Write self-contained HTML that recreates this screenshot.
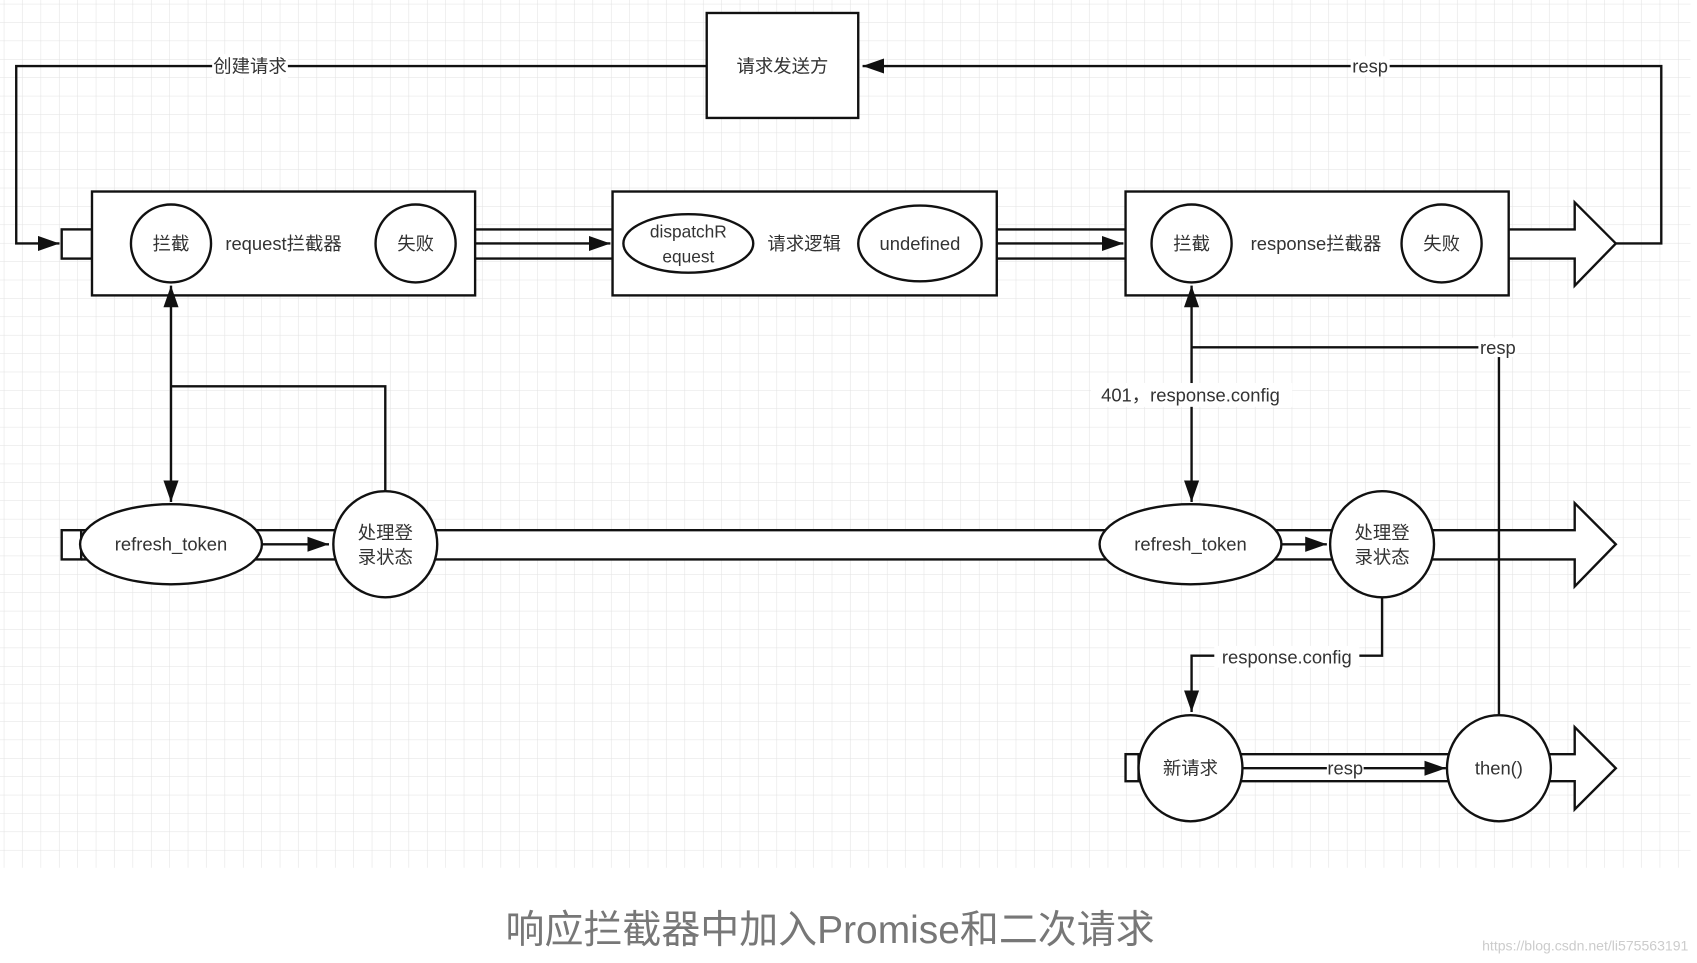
<!DOCTYPE html>
<html><head><meta charset="utf-8"><style>
html,body{margin:0;padding:0;background:#fff;}
svg{display:block;}
text{font-family:"Liberation Sans","Noto Sans CJK SC",sans-serif;fill:#333;}
</style></head><body>
<svg width="1697" height="963" viewBox="0 0 1568 890" preserveAspectRatio="none" xmlns="http://www.w3.org/2000/svg">
<defs>
<pattern id="g" width="17" height="17" patternUnits="userSpaceOnUse" x="4" y="4">
<path d="M17 0V17M0 17H17" stroke="#e2e2e2" stroke-width="1" fill="none"/>
</pattern>
<marker id="a" viewBox="0 0 10 10" refX="10" refY="5" markerWidth="7" markerHeight="7" orient="auto-start-reverse" markerUnits="userSpaceOnUse">
<path d="M0,0L10,5L0,10z" fill="#111"/>
</marker>
<marker id="b" viewBox="0 0 10 10" refX="10" refY="5" markerWidth="20" markerHeight="14" orient="auto-start-reverse" markerUnits="userSpaceOnUse" preserveAspectRatio="none">
<path d="M0,0L10,5L0,10z" fill="#111"/>
</marker>
</defs>
<rect x="0" y="0" width="1562" height="802" fill="url(#g)"/>
<g stroke="#111" stroke-width="2.2" fill="none">
<!-- top connectors -->
<path d="M653 61H15V225H55" marker-end="url(#b)"/>
<path d="M1493 225H1535V61H797" marker-end="url(#b)"/>
<!-- bands row1 -->
<path d="M439 212H566M439 239H566M921 212H1040M921 239H1040"/>
<path d="M439 225H564" marker-end="url(#b)"/>
<path d="M921 225H1038" marker-end="url(#b)"/>
<path d="M1394 212H1455V187L1493 225L1455 264V239H1394" fill="#fff"/>
<!-- row2 band -->
<path d="M75 490H1455V465L1493 503L1455 542V517H75" fill="#fff"/>
<rect x="57" y="490" width="18" height="27" fill="#fff"/>
<!-- row3 band -->
<path d="M1052 697H1455V672L1493 710L1455 748V722H1052" fill="#fff"/>
<rect x="1040" y="697" width="12" height="25" fill="#fff"/>
<!-- boxes -->
<rect x="653" y="12" width="140" height="97" fill="#fff"/>
<rect x="57" y="212" width="28" height="27" fill="#fff"/>
<rect x="85" y="177" width="354" height="96" fill="#fff"/>
<rect x="566" y="177" width="355" height="96" fill="#fff"/>
<rect x="1040" y="177" width="354" height="96" fill="#fff"/>
<!-- verticals -->
<path d="M158 264V464" marker-start="url(#b)" marker-end="url(#b)"/>
<path d="M158 357H356V455"/>
<path d="M1101 264V464" marker-start="url(#b)" marker-end="url(#b)"/>
<path d="M1101 321H1385V660"/>
<path d="M1277 552V606H1101V658" marker-end="url(#b)"/>
<!-- inner arrows -->
<path d="M240 503H304" marker-end="url(#b)"/>
<path d="M1184 503H1226" marker-end="url(#b)"/>
<path d="M1148 710H1336" marker-end="url(#b)"/>
<!-- ellipses -->
<ellipse cx="158" cy="225" rx="37" ry="36" fill="#fff"/>
<ellipse cx="384" cy="225" rx="37" ry="36" fill="#fff"/>
<ellipse cx="636" cy="225" rx="60" ry="27" fill="#fff"/>
<ellipse cx="850" cy="225" rx="57" ry="35" fill="#fff"/>
<ellipse cx="1101" cy="225" rx="37" ry="36" fill="#fff"/>
<ellipse cx="1332" cy="225" rx="37" ry="36" fill="#fff"/>
<ellipse cx="158" cy="503" rx="84" ry="37" fill="#fff"/>
<ellipse cx="356" cy="503" rx="48" ry="49" fill="#fff"/>
<ellipse cx="1100" cy="503" rx="84" ry="37" fill="#fff"/>
<ellipse cx="1277" cy="503" rx="48" ry="49" fill="#fff"/>
<ellipse cx="1100" cy="710" rx="48" ry="49" fill="#fff"/>
<ellipse cx="1385" cy="710" rx="48" ry="49" fill="#fff"/>
</g>
<!-- label backgrounds -->
<g fill="#fff">
<rect x="196" y="50" width="70" height="22"/>
<rect x="1248" y="52" width="36" height="18"/>
<rect x="1366" y="312" width="36" height="18"/>
<rect x="1008" y="354" width="186" height="22"/>
<rect x="1122" y="597" width="134" height="20"/>
<rect x="1226" y="702" width="34" height="16"/>
</g>
<g font-size="17" text-anchor="middle" dominant-baseline="central">
<text x="231" y="61">创建请求</text>
<text x="723" y="61">请求发送方</text>
<text x="1266" y="61">resp</text>
<text x="158" y="225">拦截</text>
<text x="262" y="225">request拦截器</text>
<text x="384" y="225">失败</text>
<text x="636" y="214" font-size="16">dispatchR</text>
<text x="636" y="237" font-size="16">equest</text>
<text x="743" y="225">请求逻辑</text>
<text x="850" y="225">undefined</text>
<text x="1101" y="225">拦截</text>
<text x="1216" y="225">response拦截器</text>
<text x="1332" y="225">失败</text>
<text x="1384" y="321">resp</text>
<text x="1100" y="365">401，response.config</text>
<text x="158" y="503">refresh_token</text>
<text x="356" y="492">处理登</text>
<text x="356" y="515">录状态</text>
<text x="1100" y="503">refresh_token</text>
<text x="1277" y="492">处理登</text>
<text x="1277" y="515">录状态</text>
<text x="1189" y="607">response.config</text>
<text x="1100" y="710">新请求</text>
<text x="1243" y="710">resp</text>
<text x="1385" y="710">then()</text>
</g>
<text x="767" y="860" font-size="36" text-anchor="middle" dominant-baseline="central" style="fill:#777">响应拦截器中加入Promise和二次请求</text>
<text x="1560" y="874" font-size="13" text-anchor="end" dominant-baseline="central" style="fill:#ccc">https://blog.csdn.net/li575563191</text>
</svg>
</body></html>
